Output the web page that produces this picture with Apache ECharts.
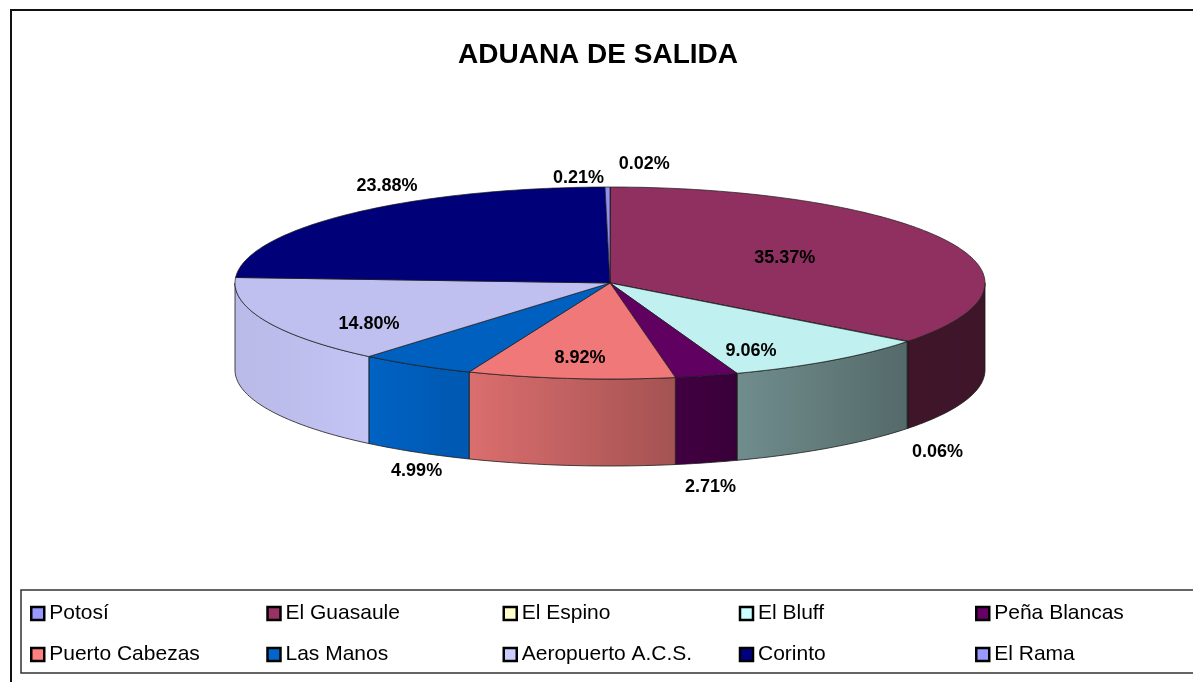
<!DOCTYPE html>
<html><head><meta charset="utf-8">
<script src="https://cdn.jsdelivr.net/npm/echarts/dist/echarts.min.js"></script>
<style>html,body{margin:0;padding:0;background:#fff}#c{width:1193px;height:682px}</style>
</head><body><div id="c"></div>
<script>
// ---- data ----
const chartTitle = 'ADUANA DE SALIDA';
const categories = ['Potosí','El Guasaule','El Espino','El Bluff','Peña Blancas','Puerto Cabezas','Las Manos','Aeropuerto A.C.S.','Corinto','El Rama'];
const shares = [0.02, 35.37, 0.06, 9.06, 2.71, 8.92, 4.99, 14.80, 23.88, 0.21];
const colors = ['#9999FF','#993366','#FFFFCC','#CCFFFF','#660066','#FF8080','#0066CC','#CCCCFF','#000080','#9999FF'];

// ---- label layout: [radial factor, dx, dy] relative to slice mid-angle point ----
const labelLayout = [
  [1, 34, -23], [0.52, 0, -3], [1, 30, 111], [0.638, 0, 19], [1, 4, 111],
  [0.764, 0, 2], [1, 0, 106], [0.70, 0, 14], [0.86, 0, -37], [1, -29, -9]
];

// ---- 3D pie geometry ----
const CX = 610, CY = 283, RX = 375, RY = 96, DEPTH = 87;
const total = shares.reduce((a, b) => a + b, 0);
const angles = [];
let acc = 0;
shares.forEach(v => { const a0 = acc; acc += v / total * 360; angles.push([a0, acc]); });

function pt(theta, k, drop) {
  k = k === undefined ? 1 : k; drop = drop || 0;
  const r = theta * Math.PI / 180;
  return [CX + k * RX * Math.sin(r), CY - k * RY * Math.cos(r) + drop];
}
function shade(hex, f) {
  const n = parseInt(hex.slice(1), 16);
  const r = Math.round(((n >> 16) & 255) * f), g = Math.round(((n >> 8) & 255) * f), b = Math.round((n & 255) * f);
  return 'rgb(' + r + ',' + g + ',' + b + ')';
}
// wall lighting as a function of horizontal position
const light = [[0, 0.91], [0.18, 0.96], [0.31, 0.86], [0.58, 0.65], [0.67, 0.55], [0.89, 0.42], [1, 0.40]];
function lightAt(u) {
  for (let i = 1; i < light.length; i++) {
    if (u <= light[i][0]) {
      const t = (u - light[i-1][0]) / (light[i][0] - light[i-1][0]);
      return light[i-1][1] + t * (light[i][1] - light[i-1][1]);
    }
  }
  return light[light.length-1][1];
}

function renderSlice(i) {
  return function (params, api) {
    const a0 = angles[i][0], a1 = angles[i][1];
    const children = [];
    const w0 = Math.max(a0, 90), w1 = Math.min(a1, 270);
    if (w1 > w0) {
      const n = Math.max(2, Math.ceil(w1 - w0));
      const pts = [];
      for (let j = 0; j <= n; j++) pts.push(pt(w0 + (w1 - w0) * j / n));
      for (let j = n; j >= 0; j--) pts.push(pt(w0 + (w1 - w0) * j / n, 1, DEPTH));
      const xs = pts.map(p => p[0]);
      const xmin = Math.min.apply(null, xs), xmax = Math.max.apply(null, xs);
      const stops = [];
      const m = 8;
      for (let j = 0; j <= m; j++) {
        const x = xmin + (xmax - xmin) * j / m;
        stops.push({ offset: j / m, color: shade(colors[i], lightAt((x - (CX - RX)) / (2 * RX))) });
      }
      children.push({
        type: 'polygon', z2: 1, shape: { points: pts },
        style: { fill: new echarts.graphic.LinearGradient(xmin, 0, Math.max(xmax, xmin + 0.01), 0, stops, true), stroke: '#1a1a1a', lineWidth: 0.8 }
      });
    }
    const tp = [[CX, CY]];
    const n2 = Math.max(1, Math.ceil(a1 - a0));
    for (let j = 0; j <= n2; j++) tp.push(pt(a0 + (a1 - a0) * j / n2));
    children.push({
      type: 'polygon', z2: 5, shape: { points: tp },
      style: { fill: shade(colors[i], 0.94), stroke: '#1a1a1a', lineWidth: 0.7 }
    });
    const mid = (a0 + a1) / 2, L = labelLayout[i];
    const lp = pt(mid, L[0]);
    children.push({
      type: 'text', z2: 10, x: lp[0] + L[1], y: lp[1] + L[2],
      style: { text: shares[i].toFixed(2) + '%', fontFamily: 'Arial, "Liberation Sans", sans-serif', fontWeight: 'bold', fontSize: 18, fill: '#000', align: 'center', verticalAlign: 'middle' }
    });
    return { type: 'group', children: children };
  };
}

const chart = echarts.init(document.getElementById('c'), null, { renderer: 'canvas' });
chart.setOption({
  animation: false,
  backgroundColor: '#fff',
  title: {
    text: chartTitle, left: 593, textAlign: 'center', top: 36,
    textStyle: { fontFamily: 'Arial, "Liberation Sans", sans-serif', fontWeight: 'bold', fontSize: 28, color: '#000' }
  },
  graphic: [{
    type: 'rect', silent: true, z: 0,
    shape: { x: 11, y: 10, width: 1400, height: 900 },
    style: { fill: 'none', stroke: '#111', lineWidth: 2 }
  }],
  legend: {
    data: categories, left: 21, top: 590, width: 1195,
    orient: 'horizontal', icon: 'rect', selectedMode: false,
    itemWidth: 13, itemHeight: 13, itemGap: 20,
    padding: [13, 20, 8, 9],
    borderColor: '#333', borderWidth: 1.5,
    itemStyle: { borderColor: '#000', borderWidth: 2.5 },
    textStyle: { fontFamily: 'Arial, "Liberation Sans", sans-serif', fontSize: 21, color: '#000', width: 197, overflow: 'truncate', lineHeight: 21 }
  },
  series: categories.map((name, i) => ({
    type: 'custom', name: name, coordinateSystem: 'none', silent: true,
    itemStyle: { color: colors[i] },
    data: [shares[i]],
    renderItem: renderSlice(i)
  }))
});
</script></body></html>
